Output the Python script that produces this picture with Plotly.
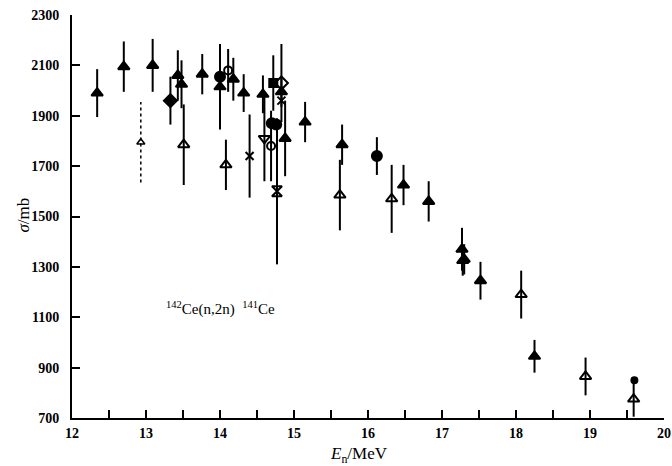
import plotly.graph_objects as go

# ---- data (E_n in MeV, sigma in mb, symmetric error in mb) ----
tri_filled_E = [12.34, 12.70, 13.09, 13.43, 13.48, 13.76, 14.00, 14.18, 14.32, 14.58, 14.83, 14.88,
                15.15, 15.65, 16.48, 16.82, 17.27, 17.30, 17.52, 18.25]
tri_filled_s = [1990, 2095, 2100, 2060, 2025, 2065, 2015, 2045, 1990, 1985, 1995, 1810,
                1875, 1785, 1625, 1560, 1370, 1330, 1245, 945]
tri_filled_err = [95, 100, 105, 100, 95, 80, 170, 85, 75, 75, 60, 150,
                  80, 80, 80, 80, 85, 60, 75, 65]

tri_open_E = [13.51, 14.08, 15.62, 16.32, 17.28, 18.07, 18.94, 19.59]
tri_open_s = [1785, 1705, 1585, 1570, 1325, 1190, 865, 775]
tri_open_err = [160, 100, 140, 135, 60, 95, 75, 70]

circ_filled_E = [14.00, 14.70, 14.76, 16.12]
circ_filled_s = [2055, 1870, 1865, 1740]
circ_filled_err = [0, 0, 0, 75]

dot_E = [19.60]
dot_s = [850]

diam_filled_E = [13.33]
diam_filled_s = [1960]
diam_filled_err = [95]

sq_filled_E = [14.72]
sq_filled_s = [2030]
sq_filled_err = [110]

x_E = [14.40, 14.83]
x_s = [1740, 1960]
x_err = [165, 0]

circ_open_E = [14.11, 14.69]
circ_open_s = [2080, 1780]
circ_open_err = [85, 140]

diam_open_E = [14.83]
diam_open_s = [2030]
diam_open_err = [155]

tri_down_open_E = [14.60]
tri_down_open_s = [1810]
tri_down_open_err = [170]

hour_E = [14.77]
hour_s = [1600]
hour_err = [290]

dashed_E = [12.93]
dashed_s = [1795]
dashed_err = [160]

x_ticks = [12, 13, 14, 15, 16, 17, 18, 19, 20]
y_ticks = [700, 900, 1100, 1300, 1500, 1700, 1900, 2100, 2300]

FONT = "Liberation Serif"
fig = go.Figure()


def add(E, s, err, symbol, size=10, lw=2):
    fig.add_trace(go.Scatter(
        x=E, y=s, mode="markers", cliponaxis=False, showlegend=False,
        marker=dict(symbol=symbol, size=size, color="black",
                    line=dict(color="black", width=lw)),
        error_y=dict(type="data", array=err, visible=True, color="black",
                     thickness=2, width=0),
    ))


# dashed error bar built from data
for e, s, d in zip(dashed_E, dashed_s, dashed_err):
    fig.add_trace(go.Scatter(x=[e, e], y=[s - d, s + d], mode="lines", showlegend=False,
                             line=dict(color="black", width=1.5, dash="dot")))
add(dashed_E, dashed_s, [0] * len(dashed_E), "triangle-up-open", size=7, lw=1.5)

add(tri_filled_E, tri_filled_s, tri_filled_err, "triangle-up")
add(tri_open_E, tri_open_s, tri_open_err, "triangle-up-open")
add(circ_filled_E, circ_filled_s, circ_filled_err, "circle")
add(dot_E, dot_s, [0], "circle", size=6)
add(diam_filled_E, diam_filled_s, diam_filled_err, "diamond")
add(sq_filled_E, sq_filled_s, sq_filled_err, "square", size=8)
add(x_E, x_s, x_err, "x-thin-open", size=8)
add(circ_open_E, circ_open_s, circ_open_err, "circle-open", size=8)
add(diam_open_E, diam_open_s, diam_open_err, "diamond-open")
add(tri_down_open_E, tri_down_open_s, tri_down_open_err, "triangle-down-open")
add(hour_E, hour_s, hour_err, "hourglass-open")

L, R, T, B = 72, 1, 15, 48
pw, ph = 672 - L - R, 466 - T - B


def px(xp):
    return (xp - L) / pw


def py(yp):
    return (466 - B - yp) / ph


fig.update_layout(
    width=672, height=466,
    margin=dict(l=L, r=R, t=T, b=B),
    paper_bgcolor="white", plot_bgcolor="white",
    font=dict(family=FONT, size=13, color="black"),
    xaxis=dict(range=[12, 20], tickvals=x_ticks, ticks="inside", ticklen=8, tickwidth=2,
               tickcolor="black", showline=True, linecolor="black", linewidth=2,
               showgrid=False, zeroline=False, ticklabelstandoff=1,
               ticklabeloverflow="allow",
               tickfont=dict(family=FONT, size=14, color="black", weight="bold"),
               minor=dict(dtick=0.5, ticks="inside", ticklen=8, tickwidth=2, tickcolor="black")),
    yaxis=dict(range=[700, 2300], tickvals=y_ticks, ticks="inside", ticklen=8, tickwidth=2,
               tickcolor="black", showline=True, linecolor="black", linewidth=2,
               showgrid=False, zeroline=False, ticklabelstandoff=8,
               tickfont=dict(family=FONT, size=14, color="black", weight="bold")),
    annotations=[
        dict(x=14.0, y=1135, xref="x", yref="y", showarrow=False,
             text="<sup>142</sup>Ce(n,2n)  <sup>141</sup>Ce",
             font=dict(family=FONT, size=15, color="black")),
        dict(x=px(362), y=py(455), xref="paper", yref="paper", showarrow=False,
             xanchor="center", yanchor="middle",
             text="<i>E</i><sub>n</sub>/MeV", font=dict(family=FONT, size=17, color="black")),
        dict(x=px(22), y=py(215), xref="paper", yref="paper", showarrow=False,
             xanchor="center", yanchor="middle", textangle=-90,
             text="<i>σ</i>/mb", font=dict(family=FONT, size=17, color="black")),
    ],
)

fig.write_html("out.html")
